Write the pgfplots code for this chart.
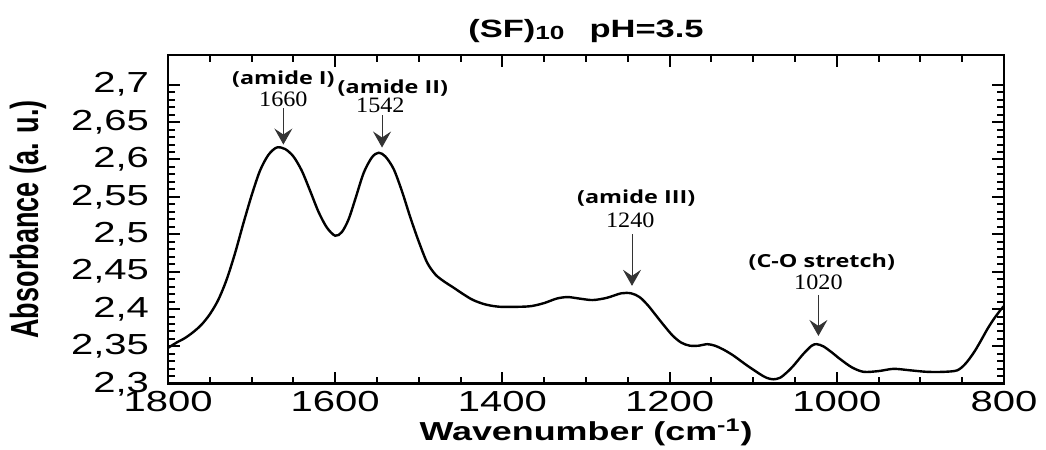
\documentclass[border=0pt]{standalone}
\usepackage{fontspec}
\setmainfont{Liberation Sans}[FakeStretch=1.38]
\newfontfamily\ylabfont{Liberation Sans}[FakeStretch=0.69]
\newfontfamily\annfont{Open Sans}[FakeStretch=1.3]
\newfontfamily\numfont{Liberation Serif}[FakeStretch=1.1]
\usepackage{pgfplots}
\pgfplotsset{compat=1.18}
\usetikzlibrary{arrows.meta}

\pgfplotstableread{
w a
1800 2.348
1790 2.355
1780 2.361
1770 2.369
1760 2.379
1750 2.393
1740 2.412
1730 2.439
1720 2.474
1710 2.514
1700 2.552
1690 2.585
1680 2.606
1670 2.616
1660 2.614
1650 2.604
1640 2.585
1630 2.558
1620 2.530
1610 2.509
1600 2.498
1592 2.503
1584 2.520
1576 2.547
1566 2.582
1556 2.603
1548 2.609
1540 2.604
1530 2.587
1520 2.557
1510 2.522
1500 2.490
1490 2.462
1480 2.446
1470 2.437
1459 2.429
1447 2.420
1435 2.412
1420 2.406
1403 2.403
1380 2.403
1365 2.404
1350 2.408
1335 2.414
1322 2.416
1308 2.414
1292 2.412
1275 2.415
1258 2.421
1246 2.421
1236 2.416
1226 2.405
1216 2.391
1206 2.377
1196 2.364
1186 2.355
1176 2.351
1165 2.351
1155 2.353
1146 2.351
1136 2.346
1124 2.338
1108 2.325
1092 2.313
1084 2.308
1076 2.306
1068 2.308
1060 2.315
1052 2.324
1040 2.340
1030 2.351
1024 2.353
1016 2.350
1006 2.342
996 2.333
982 2.322
968 2.316
950 2.317
932 2.320
912 2.318
892 2.316
872 2.316
856 2.318
846 2.327
836 2.342
828 2.357
820 2.373
812 2.387
804 2.399
800 2.404
}\spectrum

\begin{document}
\begin{tikzpicture}
\begin{axis}[
  scale only axis,
  width=418pt, height=164.5pt,
  x dir=reverse,
  xmin=800, xmax=1800,
  ymin=2.3, ymax=2.74,
  xtick={800,1000,...,1800},
  ytick={2.3,2.35,...,2.71},
  minor x tick num=3,
  minor y tick num=4,
  major tick length=6pt,
  minor tick length=3.5pt,
  axis line style={line width=1.3pt},
  every tick/.style={black, line width=1pt},
  tick label style={font=\fontsize{14.5}{16}\selectfont},
  /pgf/number format/assume math mode=true,
  yticklabel style={xshift=-6pt, /pgf/number format/.cd, fixed, precision=2, use comma},
  xticklabel style={/pgf/number format/.cd, set thousands separator={}},
  xlabel={\fontsize{13}{15}\selectfont\bfseries Wavenumber (cm\textsuperscript{-1})},
  ylabel={\ylabfont\fontsize{19.6}{22}\selectfont\bfseries Absorbance (a. u.)},
  xlabel style={yshift=3pt},
  ylabel style={at={(axis description cs:-0.1675,0.5)}, anchor=center},
  title={\fontsize{12.5}{15}\selectfont\bfseries (SF)\raisebox{-1pt}{\fontsize{9.5}{11}\selectfont 10}\quad pH=3.5},
  title style={yshift=-3.5pt},
  clip=false,
]
\addplot[black, line width=1.2pt, smooth, tension=0.5] table[x=w, y=a] {\spectrum};

\tikzset{ann/.style={-{Stealth[length=8pt,width=9pt,inset=3pt]}, line width=0.5pt, black!80}}
\draw[ann] (axis cs:1662,2.669) -- (axis cs:1662,2.620);
\node[font=\numfont\fontsize{11}{12}\selectfont] at (axis cs:1662,2.681) {1660};
\node[font=\annfont\fontsize{9}{10}\selectfont\bfseries] at (axis cs:1662,2.707) {(amide I)};

\draw[ann] (axis cs:1544,2.659) -- (axis cs:1544,2.616);
\node[font=\numfont\fontsize{11}{12}\selectfont] at (axis cs:1546,2.673) {1542};
\node[font=\annfont\fontsize{9}{10}\selectfont\bfseries] at (axis cs:1531,2.696) {(amide II)};

\draw[ann] (axis cs:1245,2.500) -- (axis cs:1245,2.431);
\node[font=\numfont\fontsize{11}{12}\selectfont] at (axis cs:1247,2.519) {1240};
\node[font=\annfont\fontsize{9}{10}\selectfont\bfseries] at (axis cs:1240,2.549) {(amide III)};

\draw[ann] (axis cs:1022,2.419) -- (axis cs:1022,2.364);
\node[font=\numfont\fontsize{11}{12}\selectfont] at (axis cs:1022,2.436) {1020};
\node[font=\annfont\fontsize{9}{10}\selectfont\bfseries] at (axis cs:1018,2.463) {(C-O stretch)};

\coordinate (tl) at (axis cs:2001,2.8133);
\coordinate (br) at (axis cs:749.8,2.212);
\end{axis}
\pgfresetboundingbox
\path[use as bounding box] (tl) rectangle (br);
\end{tikzpicture}
\end{document}
